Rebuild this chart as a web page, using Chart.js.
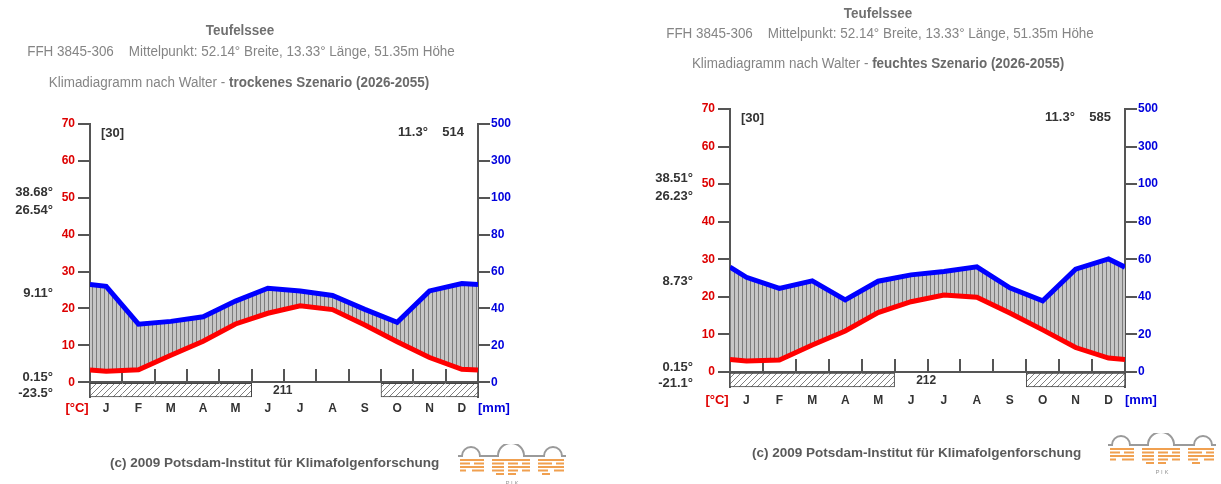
<!DOCTYPE html>
<html>
<head>
<meta charset="utf-8">
<script src="https://cdn.jsdelivr.net/npm/chart.js@4.4.1/dist/chart.umd.min.js"></script>
<style>
  body { margin: 0; background: #fff; width: 1221px; height: 484px; overflow: hidden;
         font-family: "Liberation Sans", Arial, sans-serif; }
  .panel { position: absolute; top: 0; height: 484px; }
  .panel canvas { position: absolute; left: 0; top: 0; }
  .head { position: absolute; left: 0; text-align: center; white-space: pre; color: #858585;
          font-size: 14px; line-height: 16px; transform: scaleX(0.96); }
  .head.name { font-weight: bold; color: #707070; }
  .head b { color: #6a6a6a; }
  .copy { position: absolute; font-weight: bold; font-size: 13.5px; line-height: 16px; color: #5a5a5a; white-space: nowrap; }
  .logo { position: absolute; }
</style>
</head>
<body>

<div class="panel" id="pDry" style="left:0;width:610px">
  <canvas id="cDry" width="610" height="484"></canvas>
  <div class="head name" style="top:22px;width:480px">Teufelssee</div>
  <div class="head" style="top:43px;width:482px">FFH 3845-306    Mittelpunkt: 52.14° Breite, 13.33° Länge, 51.35m Höhe</div>
  <div class="head" style="top:74px;width:478px">Klimadiagramm nach Walter - <b>trockenes Szenario (2026-2055)</b></div>
  <div class="copy" style="left:110px;top:455px">(c) 2009 Potsdam-Institut für Klimafolgenforschung</div>
  <div class="logo" style="left:458px;top:444px"></div>
</div>

<div class="panel" id="pWet" style="left:610px;width:611px">
  <canvas id="cWet" width="611" height="484"></canvas>
  <div class="head name" style="top:5px;width:536px">Teufelssee</div>
  <div class="head" style="top:25px;width:540px">FFH 3845-306    Mittelpunkt: 52.14° Breite, 13.33° Länge, 51.35m Höhe</div>
  <div class="head" style="top:55px;width:536px">Klimadiagramm nach Walter - <b>feuchtes Szenario (2026-2055)</b></div>
  <div class="copy" style="left:142px;top:445px">(c) 2009 Potsdam-Institut für Klimafolgenforschung</div>
  <div class="logo" style="left:498px;top:433px"></div>
</div>

<script>
// months and axis labels
const months = ['J', 'F', 'M', 'A', 'M', 'J', 'J', 'A', 'S', 'O', 'N', 'D'];
const tempTicks = [0, 10, 20, 30, 40, 50, 60, 70];
const precTickLabels = ['0', '20', '40', '60', '80', '100', '300', '500'];

// trockenes Szenario (2026-2055)
const tempDry = [3.0, 3.4, 7.3, 11.1, 15.8, 18.7, 20.7, 19.7, 15.5, 11.0, 6.7, 3.5];
const precDry = [52, 31.5, 33, 35.5, 44, 51, 49.5, 47, 39.5, 32.5, 49.5, 53.5];
const edgeTempDry = 3.3;   // value where the curve meets the axes (Dec/Jan)
const edgePrecDry = 53;
const frostDry = [1, 1, 1, 1, 1, 0, 0, 0, 0, 1, 1, 1];
const statsDry = ['38.68°', '26.54°', '9.11°', '0.15°', '-23.5°'];

// feuchtes Szenario (2026-2055)
const tempWet = [2.9, 3.2, 7.2, 10.9, 15.8, 18.7, 20.5, 19.9, 15.7, 11.2, 6.5, 3.7];
const precWet = [50.4, 44.5, 48.5, 38.4, 48.3, 51.7, 53.5, 56, 44.8, 37.9, 54.7, 60.2];
const edgeTempWet = 3.3;
const edgePrecWet = 55.8;
const frostWet = [1, 1, 1, 1, 1, 0, 0, 0, 0, 1, 1, 1];
const statsWet = ['38.51°', '26.23°', '8.73°', '0.15°', '-21.1°'];

const STRIP = -4;                       // depth of the frost strip below 0 °C
const statLevels = [51.4, 46.6, 24, 1.2, -3.1];
const FONT = '"Liberation Sans", Arial, sans-serif';

// Walter scale: 10 °C = 20 mm up to 100 mm, above that 10 °C = 200 mm
function precToY(p) { return p <= 100 ? p / 2 : 50 + (p - 100) / 20; }

function curve(vals, edge, conv) {
  const f = conv || (v => v);
  const pts = [{x: 0, y: f(edge)}];
  vals.forEach((v, i) => pts.push({x: i + 0.5, y: f(v)}));
  pts.push({x: 12, y: f(edge)});
  return pts;
}

function makePattern(w, h, draw) {
  const c = document.createElement('canvas');
  c.width = w; c.height = h;
  draw(c.getContext('2d'));
  return c.getContext('2d').createPattern(c, 'repeat');
}
const humid = makePattern(4, 4, g => {
  g.fillStyle = '#c6c6c6'; g.fillRect(0, 0, 4, 4);
  g.fillStyle = '#7c7c7c'; g.fillRect(0, 0, 1, 4);
});
const hatch = makePattern(6, 6, g => {
  g.fillStyle = '#fff'; g.fillRect(0, 0, 6, 6);
  g.strokeStyle = '#808080'; g.lineWidth = 1;
  g.beginPath();
  g.moveTo(0, 6); g.lineTo(6, 0);
  g.moveTo(-1, 1); g.lineTo(1, -1);
  g.moveTo(5, 7); g.lineTo(7, 5);
  g.stroke();
});

const notes = {
  id: 'notes',
  afterDraw(chart, args, o) {
    const {ctx, chartArea: a, scales: {x, y}} = chart;
    const labelY = a.bottom + o.labelDy;
    ctx.save();
    ctx.textBaseline = 'middle';
    ctx.fillStyle = '#333';
    ctx.font = 'bold 13px ' + FONT;
    ctx.textAlign = 'left';
    ctx.fillText('[30]', a.left + 11, a.top + 9);
    ctx.textAlign = 'right';
    ctx.fillText(o.mean + '    ' + o.sum, a.right - 14, a.top + 8);
    o.stats.forEach((s, i) => ctx.fillText(s, a.left - 37, y.getPixelForValue(statLevels[i])));
    ctx.font = 'bold 12px ' + FONT;
    ctx.textAlign = 'center';
    ctx.fillText(o.frostFree, x.getPixelForValue(5.96), y.getPixelForValue(-2.4));
    ctx.font = 'bold 13px ' + FONT;
    ctx.fillStyle = '#e00000';
    ctx.fillText('[°C]', a.left - 13, labelY);
    ctx.fillStyle = '#0000dd';
    ctx.textAlign = 'left';
    ctx.fillText('[mm]', a.right, labelY);
    ctx.restore();
  }
};

function makeChart(id, d) {
  const frostBars = [];
  d.frost.forEach((f, i) => { if (f) frostBars.push({x: i + 0.5, y: [STRIP, 0]}); });
  const runEdge = (c, side) => {
    const arr = c.dataset.data, j = c.dataIndex;
    const nb = arr[j + side];
    return (!nb || nb.x !== arr[j].x + side) ? 1 : 0;
  };
  return new Chart(document.getElementById(id), {
    type: 'line',
    data: {
      datasets: [
        { label: 'Temperatur', data: curve(d.temp, d.edgeTemp), borderColor: '#ff0000',
          borderWidth: 5, pointRadius: 0, fill: false, xAxisID: 'x', yAxisID: 'y' },
        { label: 'Niederschlag', data: curve(d.prec, d.edgePrec, precToY), borderColor: '#0000ff',
          borderWidth: 5, pointRadius: 0, fill: '-1', backgroundColor: humid, xAxisID: 'x', yAxisID: 'y' },
        { type: 'bar', label: 'Frost', data: frostBars, backgroundColor: hatch, borderColor: '#444',
          borderSkipped: false, categoryPercentage: 1, barPercentage: 1, clip: false,
          borderWidth: c => ({top: 1, bottom: 1, left: runEdge(c, -1), right: runEdge(c, 1)}),
          xAxisID: 'x', yAxisID: 'y' }
      ]
    },
    options: {
      responsive: false,
      animation: false,
      events: [],
      layout: { padding: d.pad },
      plugins: {
        legend: { display: false },
        tooltip: { enabled: false },
        notes: { mean: '11.3°', sum: d.sum, stats: d.stats, frostFree: d.frostFree, labelDy: d.labelDy }
      },
      scales: {
        x: {
          type: 'linear', min: 0, max: 12, position: 'bottom', offset: false,
          afterBuildTicks: s => { s.ticks = months.map((m, i) => ({value: i + 0.5})); },
          afterFit: s => { s.height = 20; },
          ticks: { callback: (v, i) => months[i], color: '#333', padding: d.xPad,
                   font: { family: FONT, size: 12, weight: 'bold' }, maxRotation: 0, autoSkip: false },
          grid: { display: false, drawTicks: false, offset: false },
          border: { display: false }
        },
        xb: {
          type: 'linear', axis: 'x', min: 0, max: 12, position: { y: 0 }, offset: false,
          afterBuildTicks: s => { s.ticks = months.concat(['']).map((m, i) => ({value: i})); },
          afterFit: s => { s.height = 0; },
          ticks: { display: false },
          grid: { drawOnChartArea: false, drawTicks: true, tickLength: -14, color: '#555', lineWidth: 2, offset: false },
          border: { color: '#555', width: 2 }
        },
        y: {
          type: 'linear', min: STRIP, max: 70, position: 'left',
          afterBuildTicks: s => { s.ticks = tempTicks.map(v => ({value: v})); },
          afterFit: s => { s.width = 30; },
          ticks: { color: '#dd0000', padding: 3, font: { family: FONT, size: 12, weight: 'bold' } },
          grid: { drawOnChartArea: false, tickLength: 12, color: '#555', lineWidth: 2 },
          border: { color: '#555', width: 2 }
        },
        y2: {
          type: 'linear', min: STRIP, max: 70, position: 'right',
          afterBuildTicks: s => { s.ticks = tempTicks.map(v => ({value: v})); },
          afterFit: s => { s.width = 40; },
          ticks: { callback: (v, i) => precTickLabels[i], color: '#0000dd', padding: 1,
                   font: { family: FONT, size: 12, weight: 'bold' } },
          grid: { drawOnChartArea: false, tickLength: 12, color: '#555', lineWidth: 2 },
          border: { color: '#555', width: 2 }
        }
      }
    },
    plugins: [notes]
  });
}

makeChart('cDry', {
  temp: tempDry, prec: precDry, edgeTemp: edgeTempDry, edgePrec: edgePrecDry, frost: frostDry,
  stats: statsDry, sum: '514', frostFree: '211', xPad: 4, labelDy: 11,
  pad: { left: 60, right: 92, top: 124, bottom: 67 }
});
makeChart('cWet', {
  temp: tempWet, prec: precWet, edgeTemp: edgeTempWet, edgePrec: edgePrecWet, frost: frostWet,
  stats: statsWet, sum: '585', frostFree: '212', xPad: 6, labelDy: 13,
  pad: { left: 90, right: 56, top: 109, bottom: 77 }
});

// PIK logo
const logoSvg =
  '<svg width="108" height="42" viewBox="0 0 108 42" xmlns="http://www.w3.org/2000/svg">' +
  '<path d="M0 12 H4 A9 9 0 0 1 22 12 H40 A13 13 0 0 1 66 12 H86 A9 9 0 0 1 104 12 H108" fill="none" stroke="#9a9a9a" stroke-width="2"/>' +
  '<g stroke="#f0a050" stroke-width="2.2">' +
  '<path d="M2 16 H26 M34 16 H72 M80 16 H106" />' +
  '<path d="M2 19.5 H12 M16 19.5 H26 M34 19.5 H46 M50 19.5 H60 M64 19.5 H72 M80 19.5 H94 M98 19.5 H106" />' +
  '<path d="M2 23 H26 M34 23 H46 M50 23 H72 M80 23 H106" />' +
  '<path d="M2 26.5 H8 M14 26.5 H26 M34 26.5 H46 M50 26.5 H60 M64 26.5 H72 M80 26.5 H90 M96 26.5 H106" />' +
  '<path d="M38 30 H46 M50 30 H58 M84 30 H92" />' +
  '</g>' +
  '<text x="54" y="41" font-family="Liberation Sans, Arial" font-size="6" fill="#999" text-anchor="middle">P    I    K</text>' +
  '</svg>';
document.querySelectorAll('.logo').forEach(el => { el.innerHTML = logoSvg; });
</script>
</body>
</html>
